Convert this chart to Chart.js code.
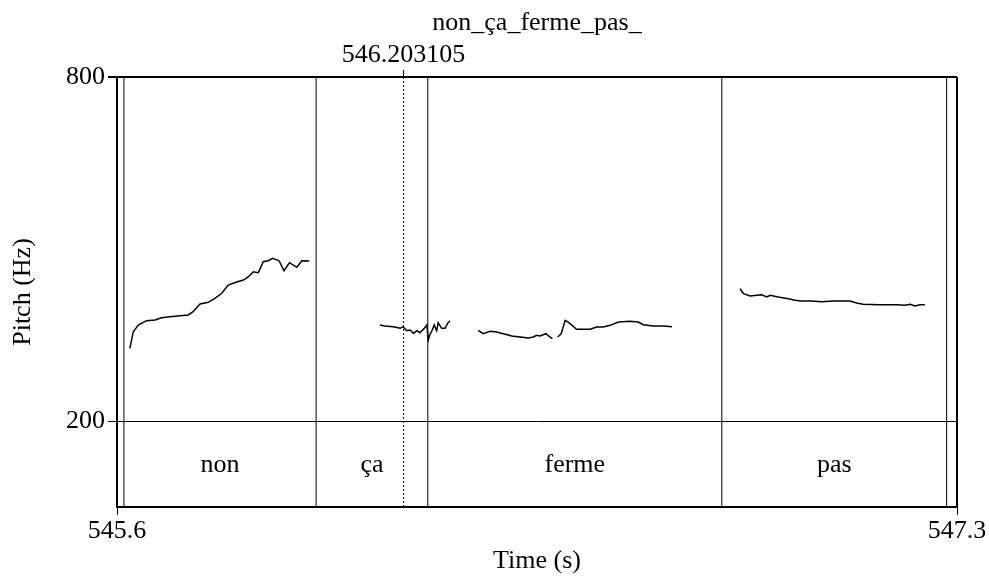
<!DOCTYPE html>
<html>
<head>
<meta charset="utf-8">
<script src="https://cdn.jsdelivr.net/npm/chart.js@4"></script>
<style>
  body { margin: 0; background: #fff; }
  canvas { display: block; }
</style>
</head>
<body>
<canvas id="pitch" width="989" height="578"></canvas>
<script>
// axis ranges and ticks
const timeRange = [545.6, 547.3];
const xTicks = [545.6, 547.3];
const xTickLabels = ["545.6", "547.3"];
const pitchRange = [51.1, 800];
const yTicks = [200, 800];

// text grid tier
const tierName = "non_ça_ferme_pas_";
const intervalBounds = [545.614, 546.003, 546.229, 546.824, 547.279];
const intervalLabels = ["non", "ça", "ferme", "pas"];

// cursor
const cursorTime = 546.180;
const cursorLabel = "546.203105";

// pitch contour, null = unvoiced gap
const pitchTime = [
  545.626, 545.633, 545.643, 545.660, 545.677, 545.690, 545.707, 545.728, 545.744, 545.754,
  545.768, 545.785, 545.798, 545.812, 545.825, 545.842, 545.856, 545.866, 545.876, 545.886,
  545.896, 545.906, 545.915, 545.928, 545.938, 545.949, 545.964, 545.974, 545.989,
  null,
  546.132, 546.142, 546.159, 546.173, 546.179, 546.186, 546.193, 546.200, 546.207, 546.213,
  546.222, 546.227, 546.230, 546.233, 546.238, 546.242, 546.247, 546.250, 546.257, 546.264,
  546.269, 546.274,
  null,
  546.331, 546.341, 546.355, 546.368, 546.382, 546.399, 546.416, 546.432, 546.443, 546.449,
  546.456, 546.468, 546.476, 546.481,
  null,
  546.492, 546.499, 546.507, 546.513, 546.521, 546.530, 546.557, 546.571, 546.584, 546.598,
  546.615, 546.638, 546.655, 546.665, 546.685, 546.706, 546.723,
  null,
  546.861, 546.868, 546.881, 546.895, 546.905, 546.915, 546.922, 546.938, 546.959, 546.972,
  546.986, 547.006, 547.026, 547.050, 547.083, 547.097, 547.110, 547.144, 547.178, 547.195,
  547.205, 547.215, 547.225, 547.235
];
const pitchHz = [
  327.5, 356.4, 368.1, 375.6, 376.8, 380.8, 382.5, 384.3, 385.5, 391.2,
  404.6, 407.6, 414.6, 423.3, 437.7, 443.0, 446.4, 452.2, 460.9, 459.2,
  478.3, 480.0, 484.2, 480.0, 462.6, 476.6, 468.6, 480.0, 479.5,
  null,
  368.1, 366.3, 365.1, 362.3, 365.1, 358.1, 359.4, 353.6, 358.1, 354.7,
  362.3, 368.1, 342.0, 350.7, 359.4, 368.1, 358.1, 372.1, 362.3, 362.3,
  371.0, 375.6,
  null,
  358.8, 352.9, 357.1, 355.9, 352.9, 348.9, 347.2, 345.4, 347.2, 350.1,
  348.9, 352.9, 347.2, 344.2,
  null,
  347.2, 352.9, 376.3, 373.3, 367.5, 360.6, 360.6, 364.6, 364.6, 367.5,
  373.3, 374.5, 373.3, 368.6, 366.3, 366.3, 365.1,
  null,
  431.3, 422.6, 418.6, 419.8, 420.8, 416.8, 419.8, 416.8, 413.9, 411.1,
  409.9, 409.9, 408.7, 409.9, 409.9, 406.4, 404.1, 403.4, 403.4, 402.4,
  404.1, 401.2, 403.4, 403.4
];

const FONT = '"Liberation Serif", "Times New Roman", serif';

// vertical boundary lines of the tier
const boundaryDatasets = intervalBounds.map(b => ({
  data: [{x: b, y: pitchRange[0]}, {x: b, y: pitchRange[1]}],
  borderColor: "#000",
  borderWidth: 1,
  pointRadius: 0,
}));

// texts and frame that praat draws outside the scales
const praatExtras = {
  id: "praatExtras",
  afterDatasetsDraw(chart) {
    const {ctx, chartArea: a, scales: {x, y}} = chart;
    ctx.save();
    ctx.strokeStyle = "#000";
    ctx.fillStyle = "#000";

    // right frame
    ctx.lineWidth = 2;
    ctx.beginPath();
    ctx.moveTo(a.right, a.top);
    ctx.lineTo(a.right, a.bottom);
    ctx.stroke();

    ctx.font = "26px " + FONT;
    ctx.textAlign = "center";
    ctx.textBaseline = "alphabetic";

    // interval labels, centred in the tier
    const tierY = (y.getPixelForValue(200) + a.bottom) / 2 + 8;
    intervalLabels.forEach((lab, i) => {
      const l = x.getPixelForValue(intervalBounds[i]);
      const r = x.getPixelForValue(intervalBounds[i + 1]);
      ctx.fillText(lab, (l + r) / 2, tierY);
    });

    // cursor tick + time
    const cx = x.getPixelForValue(cursorTime);
    ctx.lineWidth = 1;
    ctx.beginPath();
    ctx.moveTo(cx, a.top - 7);
    ctx.lineTo(cx, a.top);
    ctx.stroke();
    ctx.fillText(cursorLabel, cx, a.top - 15);

    // tier name on top
    ctx.fillText(tierName, (a.left + a.right) / 2, a.top - 47);
    ctx.restore();
  }
};

new Chart(document.getElementById("pitch"), {
  type: "line",
  data: {
    datasets: [
      {
        data: pitchTime.map((t, i) => ({x: t, y: pitchHz[i]})),
        borderColor: "#000",
        borderWidth: 1.5,
        pointRadius: 0,
        spanGaps: false,
      },
      ...boundaryDatasets,
      {
        data: [{x: cursorTime, y: pitchRange[0]}, {x: cursorTime, y: pitchRange[1]}],
        borderColor: "#000",
        borderWidth: 1,
        borderDash: [2, 2],
        pointRadius: 0,
      },
    ],
  },
  options: {
    responsive: false,
    animation: false,
    layout: { padding: { top: 77, right: 32, left: 0, bottom: 0 } },
    plugins: { legend: { display: false }, tooltip: { enabled: false } },
    scales: {
      x: {
        type: "linear",
        min: timeRange[0],
        max: timeRange[1],
        afterBuildTicks: s => { s.ticks = xTicks.map(v => ({value: v})); },
        afterFit: s => { s.height = 71; },
        ticks: {
          color: "#000",
          font: { family: FONT, size: 26 },
          padding: 1,
          maxRotation: 0,
          callback: (v, i) => xTickLabels[i],
        },
        grid: { drawOnChartArea: false, color: "#000", tickLength: 8 },
        border: { display: true, color: "#000", width: 2 },
        title: {
          display: true,
          text: "Time (s)",
          color: "#000",
          font: { family: FONT, size: 26 },
          padding: { top: 0, bottom: 1 },
        },
      },
      y: {
        min: pitchRange[0],
        max: pitchRange[1],
        afterBuildTicks: s => { s.ticks = yTicks.map(v => ({value: v})); },
        afterFit: s => { s.width = 117; },
        ticks: {
          color: "#000",
          font: { family: FONT, size: 26 },
          padding: 3,
          callback: v => String(v),
        },
        grid: {
          color: "#000",
          tickLength: 9,
          lineWidth: c => (c.tick && c.tick.value === 800 ? 2 : 1),
        },
        border: { display: true, color: "#000", width: 2 },
        title: {
          display: true,
          text: "Pitch (Hz)",
          color: "#000",
          font: { family: FONT, size: 26 },
          padding: { top: 8, bottom: 0 },
        },
      },
    },
  },
  plugins: [praatExtras],
});
</script>
</body>
</html>
